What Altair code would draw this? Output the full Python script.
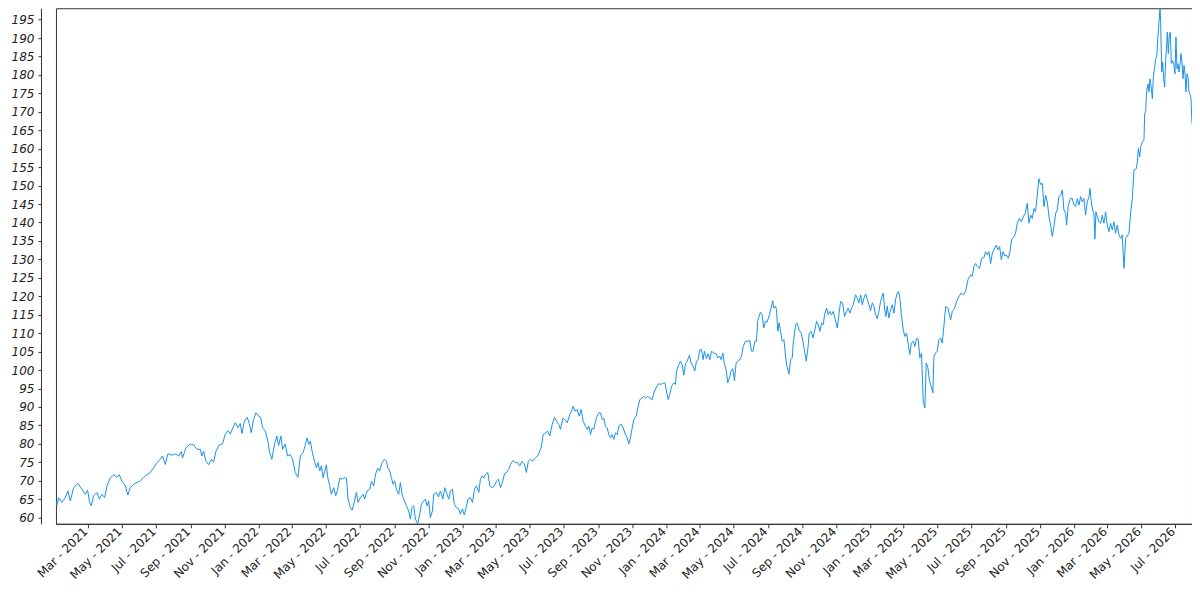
import altair as alt
import pandas as pd

# days since 2021-01-01 and closing values
days = [
    1.6, 3.4, 6.4, 12.3, 18.3, 23.1, 27.3, 33.2, 41, 48.2, 54.1, 58.3, 61.9, 64.9, 69.1, 75.0, 79.2, 84, 88.8, 93,
    98.9, 104.9, 110.8, 115, 119.8, 125.8, 130.5, 134.7, 140.7, 146.7, 152.6, 158.6, 164.6, 170.5, 176.5, 182.5,
    188.5, 192.6, 197.4, 202.2, 209.4, 215.3, 221.3, 226.1, 228.5, 234.4, 242.2, 248.2, 254.1, 260.1, 263.1, 266.1,
    270.2, 275, 279.8, 284, 288.2, 294.1, 300.1, 304.9, 309.6, 313.8, 319.8, 322.8, 327.6, 331.7, 334.7, 339.5,
    344.3, 347.9, 351.4, 355.6, 359.8, 364.6, 368.2, 371.7, 376.5, 381.3, 384.3, 388.4, 393.2, 397.4, 400.4, 404.6,
    407.6, 412.3, 416.5, 421.3, 425.5, 430.2, 435,
    439.5, 444.3, 448.5, 451.4, 454.4, 457.4, 460.4, 464.6, 468.2, 471.1, 474.1, 477.1, 480.1, 483.1, 486.1, 488.5,
    492.0, 495, 499.2, 502.8, 506.4, 510, 514.2, 518.3, 521.9, 524.9, 529.1, 532.1, 535.1, 539.8, 542.8, 547,
    551.8, 554.7, 558.9, 563.7, 566.7, 570.8, 574.4, 578, 581.6, 585.8, 590, 593.6, 596, 599.5, 602.5, 605.5,
    608.5, 611.5, 615.6, 618.6, 621.6, 624.6, 629.3, 633.5, 636.5, 639.5, 642.5, 645.5, 649.6, 653.4, 656.2, 660.4,
    663.4, 666.4, 669.4, 672.3, 676, 678.3, 683.1, 686.7, 690.4, 694.5, 698.2, 702.2, 705.2, 708.2, 711.7, 715.3,
    718.9, 723.1, 726.1, 729.6, 733.2, 736.2, 739.8, 744, 747.8, 751.3, 754.9, 759.1, 761.9, 764.9, 767.9, 771.5,
    775.2, 778.8, 783, 787.2, 790.8, 794.3, 797.9, 801.5, 805.1, 808.7, 812.9, 815.9, 820.4, 824.6, 828.7, 832.3,
    836.5, 840.7, 844.3, 847.9, 851.4, 855.6, 860.4, 864.6,
    869.6, 871.4, 874.4, 878.6, 882.7, 886.3, 890.5, 894.7, 898.3, 902.4, 905.4, 909.6, 913.2, 917.4, 922.1, 926.3,
    928.1, 931.1, 935.3, 938.9, 942.4, 946, 950.2, 953.2, 956.2, 959.2, 962.1, 965.1, 968.1, 971.1, 974.1, 977.1,
    980.1, 983, 986, 989, 992, 995, 998, 1001, 1004, 1007, 1010, 1014, 1017.7, 1021.9, 1024.9, 1027.9, 1030.8,
    1033.8, 1036.8, 1041, 1044, 1047.6, 1051.7, 1054.7, 1057.7, 1061.9, 1065.5, 1069.7, 1072.7, 1077.4, 1081.7,
    1085.9, 1089.4, 1092.4, 1095.3, 1098.3, 1101.3, 1104.3, 1108.4, 1111.4, 1113.2, 1117.4, 1120.3, 1123.3, 1126.3,
    1129.3, 1132.3, 1136.4, 1139.4, 1143, 1146, 1149, 1152, 1155, 1158, 1161, 1163.3, 1166.9, 1169.9, 1172.9,
    1175.9, 1180, 1184.2, 1187.2, 1190.8, 1193.2, 1196.2, 1199.2, 1202.1, 1205.1, 1208.1, 1211.1, 1214.1, 1217.1,
    1220, 1223, 1226.6, 1229.6, 1232.6, 1236.8, 1240.9, 1244.5, 1247.5, 1250.5, 1253.5, 1256.5, 1258.8, 1263.6,
    1266.6, 1269.6, 1272.6, 1275.6, 1279.7, 1282.7, 1285.7, 1287.5, 1290.5, 1292.3, 1294.7, 1297.1, 1299.4,
    1302.7, 1305.7, 1308.1, 1310.4, 1314.6, 1317.6, 1320.6, 1322.4, 1326.6, 1329.6, 1332.6, 1336.7, 1339.7, 1342.7,
    1345.7, 1348.7, 1351.0, 1354.6, 1357.6, 1360.6, 1364.2, 1367.2, 1370.1, 1373.1, 1376.1, 1378.5, 1382.1, 1385.1,
    1388.1, 1391.0, 1394.0, 1397.0, 1401.2, 1404.2, 1407.2, 1410.7, 1414.3, 1417.9, 1420.9, 1423.9, 1426.9, 1429.8,
    1434, 1437, 1440, 1443, 1446, 1449, 1452, 1455, 1458, 1460.9, 1463.9, 1466.9, 1469.9, 1472.8, 1475.8, 1478.8,
    1481.8, 1483.6, 1486, 1488.4, 1490.7, 1493.7, 1496.7, 1499.7, 1502.7, 1505.7, 1508.7, 1511.0, 1513.4, 1515.8,
    1519.4, 1522.4, 1525.4, 1528.4, 1531.3, 1533.7, 1537.3, 1540.3, 1543.3, 1546.3, 1549.2, 1552.2, 1555.2, 1558.2,
    1560.6, 1563.6, 1566.5, 1569.5, 1572.5, 1574.3, 1577.3, 1580.3, 1583.3, 1586.3, 1589.2, 1592.2,
    1595.4, 1599.5, 1604.3, 1607.3, 1611.5, 1615.1, 1619.2, 1623.4, 1627, 1631.2, 1635.4, 1640.1, 1643.1, 1646.1,
    1649.1, 1652.1, 1656.2, 1659.8, 1664, 1667, 1670, 1673, 1676, 1679, 1681.9, 1686.1, 1689.1, 1692.1, 1695.1,
    1698.1, 1701, 1704, 1707.6, 1710.6, 1713.6, 1717.7, 1720.7, 1723.7, 1727.3, 1730.9, 1734.5, 1738, 1741.6,
    1744.6, 1747.6, 1750.6, 1753.6, 1756.5, 1759.5, 1762.5, 1765.5, 1768.5, 1771.5, 1774.5, 1777.4, 1781, 1783.4,
    1786.4, 1789.4, 1792.4, 1795.4, 1798.3, 1801.3, 1804.3, 1807.3, 1810.3, 1812.1, 1815.1, 1819.2, 1822.2, 1825.2,
    1828.2, 1831.2, 1834.2, 1837.1, 1840.1, 1843.1, 1846.1, 1849.1, 1852.1, 1853.9, 1856.2, 1858.6, 1861, 1862.8,
    1864.6, 1867, 1870, 1873, 1876, 1878.9, 1881.9, 1884.9, 1887.9, 1890.9, 1893.9, 1896.8, 1899.8, 1902.8, 1905.8,
    1908.8, 1911.8,
    1914.9, 1917.9, 1923.9, 1926.9, 1929.8, 1932.8, 1937, 1938.8, 1940.6, 1943, 1944.8, 1947.7, 1950.7, 1951.9,
    1953.7, 1955.5, 1957.9, 1959.7, 1961.5, 1963.9, 1965.7, 1967.4, 1969.8, 1971.6, 1973.4, 1975.8, 1977.6, 1979.4,
    1980.6, 1982.4, 1984.2, 1986, 1987.7, 1989.5, 1991.3, 1992.5, 1994.3, 1996.1, 1997.9, 1999.7, 2002.1, 2004.5,
    2006.2, 2008, 2009.8, 2011.6, 2013.4, 2015.2, 2017, 2018.8, 2020.6, 2022.4, 2024.2, 2026, 2027.7, 2029.5,
    2031.3, 2033.1, 2034.9, 2036.7,
]

values = [
    64.5, 63.4, 65.4, 64.1, 65.4, 67.2, 64.5, 68.1, 69.3, 67.7, 66.3, 67.4, 64.1, 63.2, 65.9, 66.8, 65.0, 66.3, 65.4, 68.6,
    70.7, 71.6, 70.9, 71.6, 69.9, 68.6, 66.1, 68.1, 69.0, 69.5, 69.9, 70.9, 71.6, 72.2, 73.5, 74.9,
    75.8, 76.7, 74.4, 77.3, 76.9, 77.3, 76.7, 77.9, 76.2, 78.9, 79.9, 79.7, 78.5, 78.5, 76.7, 78.0,
    75.3, 74.3, 75.8, 75.0, 78.0, 79.7, 80.0, 82.6, 83.6, 82.6, 84.8, 85.7, 84.4, 85.5, 82.8, 86.2,
    87.2, 85.5, 83.0, 86.6, 88.4, 87.5, 87.2, 84.4, 83.5, 80.7, 77.6, 75.8, 79.9, 82.1, 79.5, 82.1,
    78.5, 79.9, 76.7, 77.1, 75.8, 72.2, 70.9,
    76.7, 77.6, 79.8, 81.6, 79.8, 80.7, 78.0, 75.3, 73.5, 74.9, 72.6, 74.0, 70.8, 72.6, 74.3, 70.8,
    68.6, 66.3, 68.1, 65.9, 67.7, 70.7, 70.4, 70.8, 70.7, 65.0, 62.7, 62.0, 63.6, 66.8, 64.1, 65.4,
    66.3, 65.0, 67.2, 67.7, 69.8, 68.6, 71.9, 73.4, 72.6, 74.9, 75.8, 75.3, 73.5, 72.6, 70.8, 69.0,
    69.9, 67.7, 66.3, 69.5, 66.3, 65.0, 63.2, 61.8, 59.6, 62.7, 63.2, 59.6, 58.3, 60.9, 63.6, 64.5,
    65.0, 63.2, 64.5, 60.0, 61.8, 66.3, 66.8, 65.6, 67.2, 65.0, 68.1, 66.3, 65.0, 67.2, 67.7, 63.6,
    62.7, 62.3, 60.9, 62.3, 60.7, 62.7, 65.0, 65.4, 64.1, 67.7, 68.6, 66.8, 70.4, 71.3, 70.7, 71.7,
    72.2, 68.6, 68.1, 68.6, 69.9, 70.4, 68.1, 69.5, 71.9, 72.2, 73.1, 74.4, 75.5, 74.9, 74.9, 74.0,
    75.2, 74.6, 72.2, 75.3, 75.8, 75.3, 76.2, 76.7,
    78.5, 79.4, 82.5, 83.0, 83.4, 82.1, 85.2, 87.2, 86.1, 85.2, 83.9, 86.9, 86.6, 85.7, 87.9, 89.3,
    90.2, 88.9, 89.3, 87.5, 89.3, 86.1, 84.8, 83.9, 84.8, 82.5, 84.3, 83.9, 86.1, 87.5, 88.4, 88.4,
    86.6, 86.9, 84.8, 84.3, 82.5, 81.6, 82.5, 81.2, 83.0, 82.5, 84.8, 85.4, 84.3, 82.5, 81.6, 80.0, 81.6,
    84.3, 86.6, 87.5, 89.8, 92.0, 92.4, 92.9, 92.4, 92.9, 92.4, 92.0, 93.8, 95.4, 96.3,
    96.1, 96.5, 96.5, 94.3, 92.0, 93.4, 95.6, 96.5, 96.1, 99.7, 101.5, 102.4, 101.5, 98.6,
    101.7, 102.4, 104.0, 101.9, 101.0, 99.7, 102.4, 102.8, 105.5, 105.5, 102.8, 105.1, 103.1, 104.4, 102.8,
    105.1, 104.6, 104.4, 103.3, 103.7, 102.8, 104.6, 101.5, 100.1, 96.5, 97.9, 99.7, 100.4, 97.1,
    101.9, 102.4, 102.8, 103.7, 106.4, 107.8, 107.8, 108.0, 105.1, 105.1, 107.8, 107.8, 113.4, 115.7,
    115.0, 111.4, 113.2, 113.0, 115.0, 116.8, 118.8, 116.8, 117.3, 116.4, 110.5, 112.8, 110.7,
    107.8, 108.2, 104.6, 101.5, 98.9, 102.8, 103.3, 107.3, 112.3, 112.7, 110.9, 110.0, 107.8, 105.1,
    102.4, 106.0, 110.0, 110.5, 108.7, 110.5, 113.2, 112.3, 110.5, 112.7, 112.3, 115.0, 116.8, 115.0,
    115.9, 115.0, 115.9, 114.1, 111.4, 115.0, 118.6, 118.2, 114.5, 115.9, 116.8, 115.4, 116.8, 117.7,
    120.4, 119.5, 118.2, 120.4, 117.7, 119.5, 120.6, 119.1, 117.7, 116.1, 118.2, 117.3, 115.0, 113.9, 115.9, 118.6,
    120.0, 120.9, 116.8, 114.5, 117.3, 114.1, 116.4, 117.7, 115.4, 119.1, 120.9, 121.3, 119.5, 115.4,
    110.9, 109.1, 110.0, 106.9, 104.2, 107.3, 107.8, 106.4, 108.7, 108.2, 103.3, 104.6, 91.6, 89.7,
    101.9, 100.6, 97.0, 95.6, 93.8, 103.7, 104.6, 105.1, 108.2, 108.7, 107.3, 111.8,
    117.2, 116.8, 113.6, 115.9, 116.8, 118.6, 119.9, 120.9, 120.4, 121.3, 124.5, 125.8, 125.4, 128.1,
    128.9, 128.1, 127.6, 130.3, 130.5, 132.1, 131.2, 132.1, 128.9, 131.7, 132.6, 133.9, 132.6, 133.5, 129.9,
    132.1, 131.0, 131.2, 130.3, 132.1, 135.3, 136.2, 137.1, 139.8, 141.1, 140.2, 141.6, 142.5, 145.2,
    139.8, 142.0, 141.1, 143.8, 142.9, 147.4, 151.9, 150.3, 150.6, 144.3, 147.4, 145.6, 141.1, 139.3,
    136.2, 138.9, 142.5, 143.4, 147.0, 147.4, 148.8, 143.4, 142.5, 139.3, 144.7, 146.5, 146.5, 144.7,
    144.3, 146.5, 144.7, 147.0, 145.6, 146.5, 142.0, 145.6, 147.0, 149.2, 145.6, 143.4, 142.5, 135.5,
    142.9, 141.6, 140.2, 139.8, 142.0, 139.8, 142.9, 139.3, 137.5, 139.8, 138.0, 140.2, 137.1, 139.3, 136.6,
    135.7, 136.6,
    127.6, 135.7, 137.1, 142.9, 146.5, 154.2, 154.6, 156.4, 160.1, 157.8, 160.5, 161.9, 162.3, 169.5,
    170.0, 175.8, 177.6, 175.4, 179.0, 176.3, 173.6, 179.4, 182.1, 184.4, 184.8, 190.7, 194.3, 198.1,
    194.3, 180.8, 183.5, 179.0, 176.7, 183.9, 188.0, 191.6, 185.8, 191.2, 191.6, 183.1, 183.9, 182.6,
    180.3, 190.3, 181.7, 183.1, 180.8, 182.6, 185.8, 183.5, 179.0, 182.6, 180.3, 175.4, 180.3, 179.4,
    175.4, 174.9, 173.6, 166.8,
]

tick_dates = [
    "2021-03-01", "2021-05-01", "2021-07-01", "2021-09-01", "2021-11-01",
    "2022-01-01", "2022-03-01", "2022-05-01", "2022-07-01", "2022-09-01", "2022-11-01",
    "2023-01-01", "2023-03-01", "2023-05-01", "2023-07-01", "2023-09-01", "2023-11-01",
    "2024-01-01", "2024-03-01", "2024-05-01", "2024-07-01", "2024-09-01", "2024-11-01",
    "2025-01-01", "2025-03-01", "2025-05-01", "2025-07-01", "2025-09-01", "2025-11-01",
    "2026-01-01", "2026-03-01", "2026-05-01", "2026-07-01",
]
y_ticks = list(range(60, 200, 5))

dates = pd.Timestamp("2021-01-01") + pd.to_timedelta(days, unit="D")
df = pd.DataFrame({"date": dates, "value": values})

x_vals = []
for s in tick_dates:
    yy, mm, dd = (int(p) for p in s.split("-"))
    x_vals.append(alt.DateTime(year=yy, month=mm, date=dd))

chart = (
    alt.Chart(df)
    .mark_line(color="#1992e6", strokeWidth=1, clip=True)
    .encode(
        x=alt.X(
            "date:T",
            scale=alt.Scale(nice=False),
            axis=alt.Axis(
                values=x_vals,
                format="%b - %Y",
                labelAngle=-45,
                labelAlign="right",
                labelBaseline="alphabetic",
                labelOverlap=False,
                labelFlush=False,
                tickSize=4,
                labelPadding=4,
                grid=False,
                title=None,
            ),
        ),
        y=alt.Y(
            "value:Q",
            scale=alt.Scale(zero=False, nice=False),
            axis=alt.Axis(
                values=y_ticks,
                offset=15,
                labelFontStyle="italic",
                tickSize=3,
                labelPadding=4,
                labelOverlap=False,
                grid=False,
                title=None,
            ),
        ),
    )
    .properties(width=1137, height=516, padding={"left": 3, "top": 0, "right": 0, "bottom": 0})
    .configure_view(stroke="#333333", strokeWidth=1)
    .configure_axis(
        labelFont="DejaVu Sans",
        labelFontSize=12,
        labelColor="#222222",
        domainColor="#333333",
        tickColor="#333333",
    )
)

chart.save("out.html", embed_options={"renderer": "svg", "actions": False})
